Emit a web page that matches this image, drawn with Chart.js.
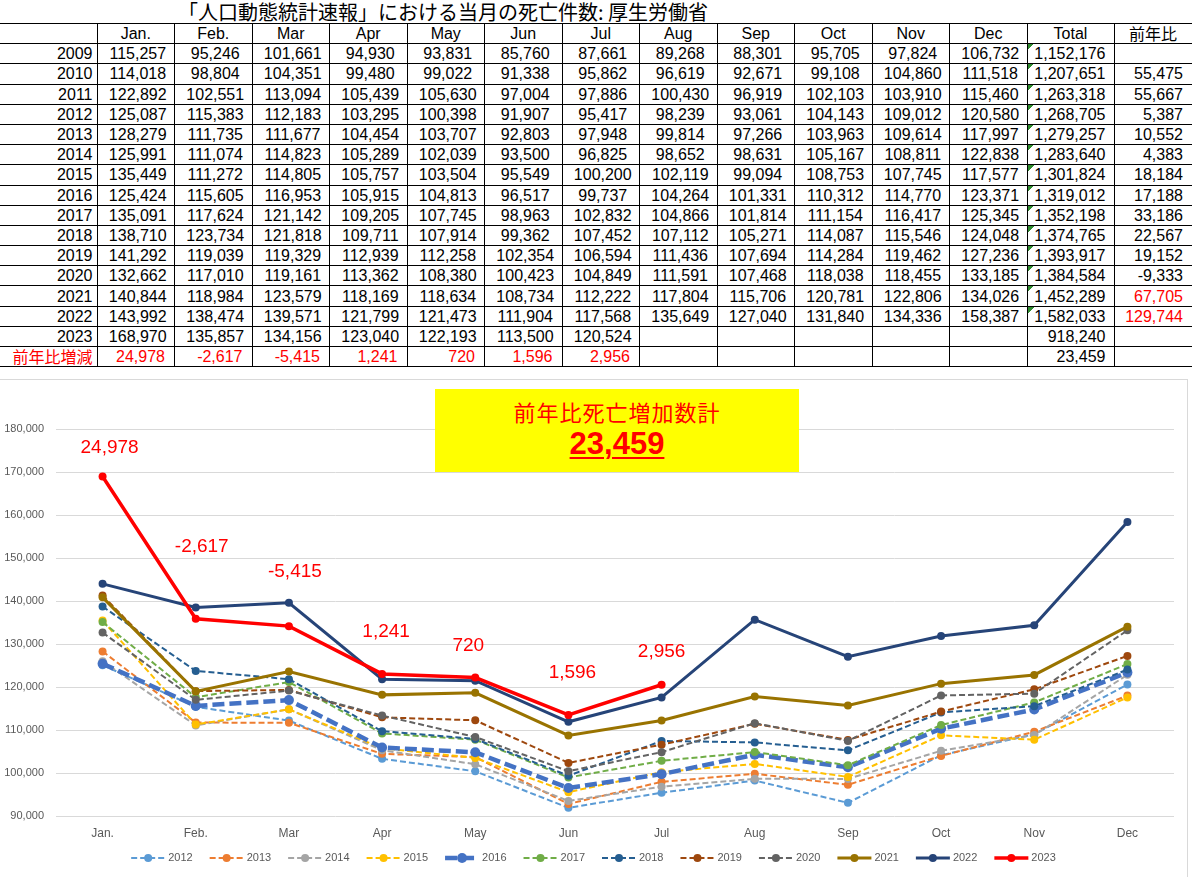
<!DOCTYPE html>
<html lang="ja">
<head>
<meta charset="utf-8">
<title>人口動態統計速報 死亡件数</title>
<script src="https://cdn.jsdelivr.net/npm/chart.js@4.4.0/dist/chart.umd.min.js"></script>
<style>
  html, body { margin: 0; padding: 0; background: #fff; }
  body { width: 1192px; height: 877px; position: relative; overflow: hidden;
         font-family: "Liberation Sans", Arial, "Noto Sans CJK JP", sans-serif; }
  #title { position: absolute; left: 178px; top: 0; height: 23px; line-height: 24px;
           font-family: "Noto Sans CJK JP", sans-serif; font-size: 20px; white-space: nowrap; }
  #tbl { position: absolute; left: 0; top: 23px; width: 1192px; border-collapse: collapse;
         table-layout: fixed; font-size: 16px; color: #000; }
  #tbl tr { height: 20.2px; }
  #tbl td { border: 1px solid #000; padding: 0; line-height: 19px;
            white-space: nowrap; overflow: hidden; }
  #tbl td:first-child { border-left: none; text-align: right; padding-right: 4px; }
  #tbl td.m { text-align: center; padding-left: 4px; }
  #tbl td.tot { text-align: right; padding-right: 8px; }
  #tbl td.yoy { text-align: right; padding-right: 9px; border-right: none; }
  #tbl tr.head td { text-align: center; padding: 0; }
  #tbl tr.diff td { color: #f00; }
  #tbl tr.diff td.m { text-align: right; padding-right: 9px; padding-left: 0; }
  #tbl tr.diff td.tot { color: #000; }
  #tbl td.red { color: #f00; }
  #tbl td.tri { background: linear-gradient(135deg, #2e8b2e 50%, transparent 50%) 0 0 / 6px 6px no-repeat; }
  #chartBox { position: absolute; left: 0; top: 379px; width: 1188px; height: 498px;
              border-top: 1px solid #d9d9d9; border-right: 1px solid #d9d9d9; box-sizing: border-box; }
  #chartWrap { position: relative; width: 1187px; height: 497px; }
  #badge { position: absolute; left: 435px; top: 389px; width: 364px; height: 83px; background: #ffff00; color: #f00; }
  #badge .t1 { position: absolute; top: 8px; width: 100%; text-align: center; line-height: 28px;
               font-family: "Noto Sans CJK JP", sans-serif; font-size: 22px; letter-spacing: 1px; }
  #badge .t2 { position: absolute; top: 36px; width: 100%; text-align: center; line-height: 38px;
               font-family: "Liberation Sans", Arial, sans-serif; font-size: 31px; font-weight: bold;
               text-decoration: underline; text-decoration-thickness: 2px; text-underline-offset: 3px; }
</style>
</head>
<body>
<div id="title">「人口動態統計速報」における当月の死亡件数: 厚生労働省</div>
<table id="tbl"></table>
<div id="chartBox"><div id="chartWrap"><canvas id="myChart"></canvas></div></div>
<div id="badge"><div class="t1">前年比死亡増加数計</div><div class="t2" id="badgeNum"></div></div>

<script>
// Data (monthly deaths)
const months = ["Jan.", "Feb.", "Mar", "Apr", "May", "Jun", "Jul", "Aug", "Sep", "Oct", "Nov", "Dec"];
const years = [2009, 2010, 2011, 2012, 2013, 2014, 2015, 2016, 2017, 2018, 2019, 2020, 2021, 2022, 2023];

const d2009 = [115257, 95246, 101661, 94930, 93831, 85760, 87661, 89268, 88301, 95705, 97824, 106732];
const d2010 = [114018, 98804, 104351, 99480, 99022, 91338, 95862, 96619, 92671, 99108, 104860, 111518];
const d2011 = [122892, 102551, 113094, 105439, 105630, 97004, 97886, 100430, 96919, 102103, 103910, 115460];
const d2012 = [125087, 115383, 112183, 103295, 100398, 91907, 95417, 98239, 93061, 104143, 109012, 120580];
const d2013 = [128279, 111735, 111677, 104454, 103707, 92803, 97948, 99814, 97266, 103963, 109614, 117997];
const d2014 = [125991, 111074, 114823, 105289, 102039, 93500, 96825, 98652, 98631, 105167, 108811, 122838];
const d2015 = [135449, 111272, 114805, 105757, 103504, 95549, 100200, 102119, 99094, 108753, 107745, 117577];
const d2016 = [125424, 115605, 116953, 105915, 104813, 96517, 99737, 104264, 101331, 110312, 114770, 123371];
const d2017 = [135091, 117624, 121142, 109205, 107745, 98963, 102832, 104866, 101814, 111154, 116417, 125345];
const d2018 = [138710, 123734, 121818, 109711, 107914, 99362, 107452, 107112, 105271, 114087, 115546, 124048];
const d2019 = [141292, 119039, 119329, 112939, 112258, 102354, 106594, 111436, 107694, 114284, 119462, 127236];
const d2020 = [132662, 117010, 119161, 113362, 108380, 100423, 104849, 111591, 107468, 118038, 118455, 133185];
const d2021 = [140844, 118984, 123579, 118169, 118634, 108734, 112222, 117804, 115706, 120781, 122806, 134026];
const d2022 = [143992, 138474, 139571, 121799, 121473, 111904, 117568, 135649, 127040, 131840, 134336, 158387];
const d2023 = [168970, 135857, 134156, 123040, 122193, 113500, 120524];

const monthly = [d2009, d2010, d2011, d2012, d2013, d2014, d2015, d2016, d2017, d2018, d2019, d2020, d2021, d2022, d2023];
const totals = [1152176, 1207651, 1263318, 1268705, 1279257, 1283640, 1301824, 1319012, 1352198, 1374765, 1393917, 1384584, 1452289, 1582033, 918240];
const yoyChange = [null, 55475, 55667, 5387, 10552, 4383, 18184, 17188, 33186, 22567, 19152, -9333, 67705, 129744, null];
const diff2023 = [24978, -2617, -5415, 1241, 720, 1596, 2956];
const diffTotal = 23459;

const chartYears = [2012, 2013, 2014, 2015, 2016, 2017, 2018, 2019, 2020, 2021, 2022, 2023];

// Line styles per plotted year
const seriesStyle = {
  2012: { color: "#5B9BD5", width: 2, dash: [6, 3], r: 4 },
  2013: { color: "#ED7D31", width: 2, dash: [6, 3], r: 4 },
  2014: { color: "#A5A5A5", width: 2, dash: [6, 3], r: 4 },
  2015: { color: "#FFC000", width: 2, dash: [6, 3], r: 4 },
  2016: { color: "#4472C4", width: 4.5, dash: [12, 5], r: 5 },
  2017: { color: "#70AD47", width: 2, dash: [6, 3], r: 4 },
  2018: { color: "#255E91", width: 2, dash: [6, 3], r: 4 },
  2019: { color: "#9E480E", width: 2, dash: [6, 3], r: 4 },
  2020: { color: "#636363", width: 2, dash: [6, 3], r: 4 },
  2021: { color: "#997300", width: 3, dash: [], r: 4 },
  2022: { color: "#264478", width: 3, dash: [], r: 4 },
  2023: { color: "#FF0000", width: 3.5, dash: [], r: 4 }
};

// where the red year-on-year labels sit relative to each 2023 point (px)
const labelLift = [29, 72, 54, 42, 32, 42, 33];
const labelShift = [7, 6, 6, 4, -7, 4, 0];

const fmt = v => v.toLocaleString("en-US");

// ---- table ----
function buildTable() {
  const tbl = document.getElementById("tbl");
  let html = "<colgroup><col style='width:97px'>";
  months.forEach(() => { html += "<col style='width:77.5px'>"; });
  html += "<col style='width:87px'><col style='width:78px'></colgroup>";

  html += "<tr class='head'><td></td>";
  months.forEach(m => { html += "<td>" + m + "</td>"; });
  html += "<td>Total</td><td style='font-family:\"Noto Sans CJK JP\"'>前年比</td></tr>";

  years.forEach((y, i) => {
    html += "<tr><td>" + y + "</td>";
    for (let m = 0; m < 12; m++) {
      const v = monthly[i][m];
      html += "<td class='m'>" + (v == null ? "" : fmt(v)) + "</td>";
    }
    const tri = y < 2023 ? " tri" : "";
    html += "<td class='tot" + tri + "'>" + fmt(totals[i]) + "</td>";
    const yv = yoyChange[i];
    const red = (y === 2021 || y === 2022) ? " red" : "";
    html += "<td class='yoy" + red + "'>" + (yv == null ? "" : fmt(yv)) + "</td></tr>";
  });

  html += "<tr class='diff'><td style='font-family:\"Noto Sans CJK JP\"'>前年比増減</td>";
  for (let m = 0; m < 12; m++) {
    const v = diff2023[m];
    html += "<td class='m'>" + (v == null ? "" : fmt(v)) + "</td>";
  }
  html += "<td class='tot'>" + fmt(diffTotal) + "</td><td class='yoy'></td></tr>";
  tbl.innerHTML = html;
}
buildTable();
document.getElementById("badgeNum").textContent = fmt(diffTotal);

// ---- chart ----
const yoyLabels = {
  id: "yoyLabels",
  afterDatasetsDraw(chart) {
    const ctx = chart.ctx;
    const meta = chart.getDatasetMeta(chart.data.datasets.length - 1);
    ctx.save();
    ctx.font = '19px "Liberation Sans", Arial, sans-serif';
    ctx.fillStyle = "#FF0000";
    ctx.textAlign = "center";
    ctx.textBaseline = "middle";
    meta.data.forEach((pt, i) => {
      if (diff2023[i] == null) return;
      ctx.fillText(fmt(diff2023[i]), pt.x + labelShift[i], pt.y - labelLift[i]);
    });
    ctx.restore();
  }
};

const bottomLegend = {
  id: "bottomLegend",
  afterDraw(chart) {
    const ctx = chart.ctx;
    const lineLen = 34, gap = 3, spacing = 17;
    ctx.save();
    ctx.font = '11px "Liberation Sans", Arial, sans-serif';
    const items = chart.data.datasets.map(ds => ({ ds, w: lineLen + gap + ctx.measureText(ds.label).width }));
    const total = items.reduce((s, it) => s + it.w, 0) + spacing * (items.length - 1);
    let x = (chart.width - total) / 2;
    const y = chart.height - 19;
    items.forEach(({ ds, w }) => {
      ctx.strokeStyle = ds.borderColor;
      ctx.lineWidth = ds.borderWidth;
      ctx.setLineDash(ds.borderDash);
      ctx.beginPath();
      ctx.moveTo(x, y);
      ctx.lineTo(x + lineLen, y);
      ctx.stroke();
      ctx.setLineDash([]);
      ctx.fillStyle = ds.borderColor;
      ctx.beginPath();
      ctx.arc(x + lineLen / 2, y, ds.pointRadius, 0, Math.PI * 2);
      ctx.fill();
      ctx.fillStyle = "#595959";
      ctx.textBaseline = "middle";
      ctx.fillText(ds.label, x + lineLen + gap, y);
      x += w + spacing;
    });
    ctx.restore();
  }
};

const datasets = chartYears.map((y, i) => {
  const s = seriesStyle[y];
  return {
    label: String(y),
    data: monthly[years.indexOf(y)],
    borderColor: s.color,
    backgroundColor: s.color,
    borderWidth: s.width,
    borderDash: s.dash,
    pointRadius: s.r,
    pointHoverRadius: s.r,
    pointBackgroundColor: s.color,
    pointBorderColor: s.color,
    pointBorderWidth: 0,
    tension: 0,
    fill: false,
    order: chartYears.length - i
  };
});

const ctx = document.getElementById("myChart").getContext("2d");
new Chart(ctx, {
  type: "line",
  data: { labels: months, datasets: datasets },
  plugins: [yoyLabels, bottomLegend],
  options: {
    responsive: true,
    maintainAspectRatio: false,
    animation: false,
    layout: { padding: { top: 49, right: 13, bottom: 31, left: 0 } },
    plugins: {
      legend: { display: false },
      tooltip: { enabled: false }
    },
    scales: {
      x: {
        offset: true,
        grid: { display: false, drawTicks: false },
        border: { display: false },
        ticks: { color: "#595959", font: { size: 12, family: '"Liberation Sans", Arial, sans-serif' }, padding: 10 },
        afterFit: s => { s.height = 30; }
      },
      y: {
        min: 90000,
        max: 180000,
        grid: { color: "#d9d9d9", drawTicks: false },
        border: { display: false },
        ticks: {
          stepSize: 10000,
          color: "#595959",
          padding: 12,
          font: { size: 11, family: '"Liberation Sans", Arial, sans-serif' },
          callback: v => fmt(v)
        },
        afterFit: s => { s.width = 56; }
      }
    }
  }
});
</script>
</body>
</html>
